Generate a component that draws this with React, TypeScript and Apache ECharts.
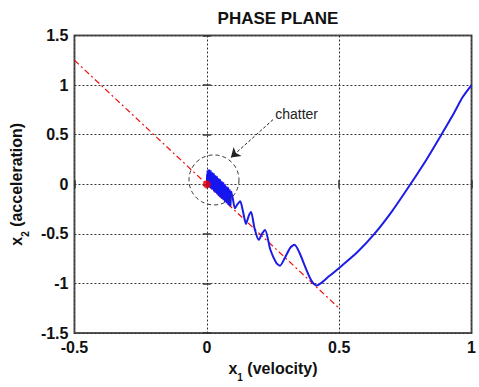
import React, { useEffect, useRef } from "react";
import * as echarts from "echarts";

const titleText = "PHASE PLANE";
const xRange = [-0.5, 1];
const yRange = [-1.5, 1.5];
const tickStep = 0.5;

// blue trajectory (x1, x2): reaching phase + decaying oscillation
const trajX = [1.0, 0.966, 0.93, 0.886, 0.83, 0.769, 0.70, 0.633, 0.57, 0.51, 0.46, 0.414, 0.395, 0.375, 0.35, 0.331, 0.315, 0.295, 0.276, 0.262, 0.24, 0.22, 0.208, 0.196, 0.18, 0.167, 0.158, 0.148, 0.137, 0.126, 0.116, 0.106, 0.098, 0.091];
const trajY = [1.0, 0.877, 0.70, 0.5, 0.25, 0.0, -0.27, -0.5, -0.68, -0.82, -0.93, -1.02, -0.97, -0.855, -0.69, -0.61, -0.64, -0.74, -0.82, -0.79, -0.66, -0.46, -0.50, -0.56, -0.44, -0.28, -0.32, -0.40, -0.28, -0.17, -0.20, -0.24, -0.14, -0.07];

// dense chatter near the origin
const chatX = [0.091, 0.088, 0.085, 0.082, 0.079, 0.076, 0.073, 0.070, 0.067, 0.064, 0.061, 0.058, 0.055, 0.052, 0.049, 0.046, 0.043, 0.040, 0.037, 0.034, 0.031, 0.028, 0.025, 0.022, 0.019, 0.016, 0.013, 0.010, 0.008, 0.006, 0.004, 0.003, 0.002, 0.001, 0.0];
const chatY = [-0.07, -0.22, -0.05, -0.205, -0.03, -0.19, -0.02, -0.175, 0.0, -0.16, 0.02, -0.145, 0.03, -0.13, 0.05, -0.115, 0.06, -0.10, 0.08, -0.085, 0.09, -0.07, 0.11, -0.055, 0.12, -0.04, 0.14, -0.03, 0.15, -0.02, 0.14, -0.01, 0.10, -0.01, 0.0];

// sliding surface (red dash-dot line)
const surfX = [-0.5, 0.5];
const surfY = [1.25, -1.25];

// equilibrium point
const origin = [0, 0];

// annotation
const chatterLabel = "chatter";
const chatterLabelAt = [0.339, 0.71];
const arrowFrom = [0.25, 0.652];
const arrowTo = [0.091, 0.27];
const circleCenter = [0.027, 0.044];

export default function App() {
  const ref = useRef<HTMLDivElement>(null);
  useEffect(() => {
    if (!ref.current) return;
    const chart = echarts.init(ref.current, null, { renderer: "svg" });
    const font = "'Liberation Sans', Arial, sans-serif";
    const traj = trajX.map((x, i) => [x, trajY[i]]);
    const chat = chatX.map((x, i) => [x, chatY[i]]);
    const surf = surfX.map((x, i) => [x, surfY[i]]);
    const splitLine = { show: true, lineStyle: { color: "#333", type: [2, 2] as any, width: 1 } };
    const tick = { show: true, inside: true, length: 4, lineStyle: { color: "#333", width: 1.5 } };
    const rich = {
      n: { fontFamily: font, fontSize: 16, fontWeight: "bold", color: "#111", lineHeight: 22, verticalAlign: "top" },
      s: { fontFamily: font, fontSize: 10, fontWeight: "bold", color: "#111", lineHeight: 22, verticalAlign: "bottom" },
    };
    const option: any = {
      animation: false,
      backgroundColor: "#fff",
      title: {
        text: titleText,
        left: 273,
        textAlign: "center",
        top: 5,
        textStyle: { fontFamily: font, fontSize: 17, fontWeight: "bold", color: "#111" },
      },
      grid: {
        left: 70,
        right: 3.5,
        top: 35.5,
        bottom: 45,
        show: true,
        borderColor: "#555",
        borderWidth: 2,
        backgroundColor: "transparent",
      },
      xAxis: [
        {
          type: "value",
          min: xRange[0],
          max: xRange[1],
          interval: tickStep,
          position: "bottom",
          axisLine: { show: false },
          axisTick: tick,
          axisLabel: { fontFamily: font, fontSize: 16, fontWeight: "bold", color: "#111", margin: 6 },
          splitLine,
          name: "{n|x}{s|1}{n| (velocity)}",
          nameLocation: "middle",
          nameGap: 25,
          nameTextStyle: { fontFamily: font, rich },
        },
        {
          type: "value",
          min: xRange[0],
          max: xRange[1],
          interval: tickStep,
          position: "top",
          axisLine: { show: false },
          axisTick: tick,
          axisLabel: { show: false },
          splitLine: { show: false },
        },
      ],
      yAxis: [
        {
          type: "value",
          min: yRange[0],
          max: yRange[1],
          interval: tickStep,
          position: "left",
          axisLine: { show: false },
          axisTick: tick,
          axisLabel: { fontFamily: font, fontSize: 16, fontWeight: "bold", color: "#111", margin: 6 },
          splitLine,
          name: "{n|x}{s|2}{n| (acceleration)}",
          nameLocation: "middle",
          nameRotate: 90,
          nameGap: 36,
          nameTextStyle: { fontFamily: font, rich },
        },
        {
          type: "value",
          min: yRange[0],
          max: yRange[1],
          interval: tickStep,
          position: "right",
          axisLine: { show: false },
          axisTick: tick,
          axisLabel: { show: false },
          splitLine: { show: false },
        },
      ],
      series: [
        {
          type: "line",
          data: surf,
          symbol: "none",
          lineStyle: { color: "#f01010", width: 1.2, type: [6, 3, 2, 3] },
          z: 2,
          markLine: {
            silent: true,
            symbol: ["none", "arrow"],
            symbolSize: 9,
            label: { show: false },
            lineStyle: { color: "#222", width: 1, type: [3, 2] },
            data: [[{ coord: arrowFrom }, { coord: arrowTo }]],
          },
          markPoint: {
            silent: true,
            data: [
              {
                coord: chatterLabelAt,
                symbol: "circle",
                symbolSize: 1,
                itemStyle: { color: "rgba(0,0,0,0)" },
                label: {
                  show: true,
                  position: "inside",
                  formatter: chatterLabel,
                  fontFamily: font,
                  fontSize: 14,
                  color: "#222",
                },
              },
            ],
          },
        },
        {
          type: "line",
          data: traj,
          symbol: "none",
          smooth: 0.25,
          lineStyle: { color: "#1c1ce6", width: 2 },
          z: 3,
        },
        {
          type: "line",
          data: chat,
          symbol: "none",
          smooth: false,
          lineStyle: { color: "#1515f0", width: 2.5 },
          z: 3,
        },
        {
          type: "custom",
          data: [circleCenter],
          z: 4,
          renderItem: (params: any, api: any) => {
            const c = api.coord([api.value(0), api.value(1)]);
            return {
              type: "circle",
              shape: { cx: c[0], cy: c[1], r: 25 },
              style: { fill: "none", stroke: "#333", lineWidth: 1, lineDash: [4, 3] },
            };
          },
        },
        {
          type: "scatter",
          data: [origin],
          symbol: "circle",
          symbolSize: 8,
          itemStyle: { color: "#f00000" },
          z: 5,
        },
      ],
    };
    chart.setOption(option);
    return () => chart.dispose();
  }, []);
  return (
    <div
      ref={ref}
      style={{ position: "fixed", left: 0, top: 0, width: 479, height: 387, background: "#fff" }}
    />
  );
}
